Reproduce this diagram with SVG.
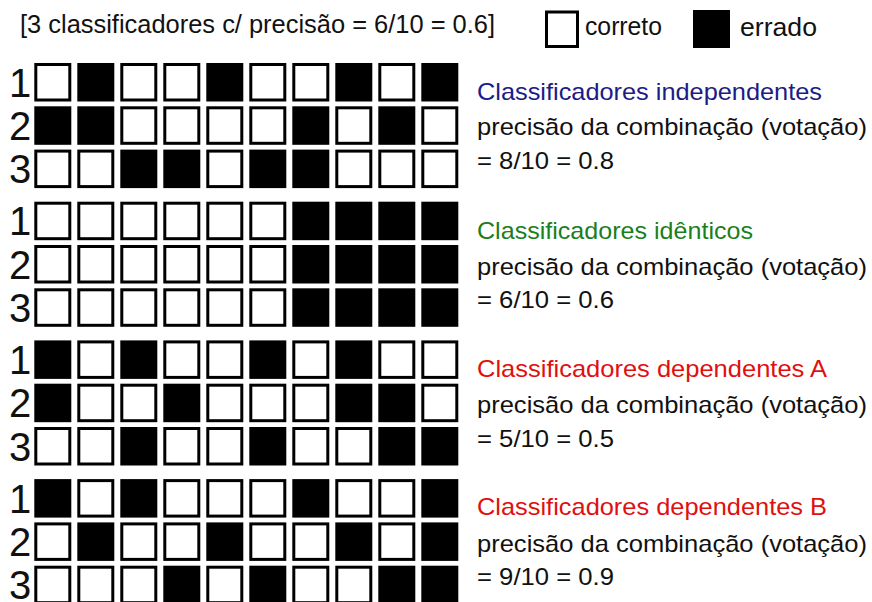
<svg xmlns="http://www.w3.org/2000/svg" width="872" height="602" viewBox="0 0 872 602">
<style>
  text { font-family: "Liberation Sans", Arial, sans-serif; fill: #111; }
  .t { font-size: 25px; }
  .lbl { font-size: 24px; }
  .num { font-size: 40px; }
  .wc { fill: #fff; stroke: #000; stroke-width: 3; }
  .bc { fill: #000; }
  .blue { fill: #1c1c86; }
  .green { fill: #1b7f1b; }
  .red { fill: #e01010; }
</style>
<defs>
  <rect id="w" class="wc" x="1.5" y="1.5" width="34" height="35.5"/>
  <rect id="b" class="bc" x="0" y="0" width="37" height="38.5"/>
</defs>
<rect width="872" height="602" fill="#fff"/>

<g id="header">
  <text class="t" x="20" y="33" textLength="475" lengthAdjust="spacingAndGlyphs">[3 classificadores c/ precisão = 6/10 = 0.6]</text>
  <rect class="wc" x="546.5" y="12" width="31" height="34.5"/>
  <text class="t" x="585" y="35" textLength="77" lengthAdjust="spacingAndGlyphs">correto</text>
  <rect class="bc" x="693" y="10" width="37" height="38"/>
  <text class="t" x="740" y="36" textLength="77" lengthAdjust="spacingAndGlyphs">errado</text>
</g>

<g id="group-independentes">
  <text class="num" x="9" y="96.5">1</text>
  <text class="num" x="9" y="139.8">2</text>
  <text class="num" x="9" y="183.1">3</text>
  <g transform="translate(0,63)">
    <use href="#w" x="34.3"/><use href="#b" x="77.3"/><use href="#w" x="120.3"/><use href="#w" x="163.3"/><use href="#b" x="206.3"/><use href="#w" x="249.3"/><use href="#w" x="292.3"/><use href="#b" x="335.3"/><use href="#w" x="378.3"/><use href="#b" x="421.3"/>
  </g>
  <g transform="translate(0,106.3)">
    <use href="#b" x="34.3"/><use href="#b" x="77.3"/><use href="#w" x="120.3"/><use href="#w" x="163.3"/><use href="#w" x="206.3"/><use href="#w" x="249.3"/><use href="#b" x="292.3"/><use href="#w" x="335.3"/><use href="#b" x="378.3"/><use href="#w" x="421.3"/>
  </g>
  <g transform="translate(0,149.6)">
    <use href="#w" x="34.3"/><use href="#w" x="77.3"/><use href="#b" x="120.3"/><use href="#b" x="163.3"/><use href="#w" x="206.3"/><use href="#b" x="249.3"/><use href="#b" x="292.3"/><use href="#w" x="335.3"/><use href="#w" x="378.3"/><use href="#w" x="421.3"/>
  </g>
  <text class="lbl blue" x="477" y="100" textLength="345" lengthAdjust="spacingAndGlyphs">Classificadores independentes</text>
  <text class="lbl" x="477" y="135" textLength="390" lengthAdjust="spacingAndGlyphs">precisão da combinação (votação)</text>
  <text class="lbl" x="477" y="169" textLength="137" lengthAdjust="spacingAndGlyphs">= 8/10 = 0.8</text>
</g>

<g id="group-identicos">
  <text class="num" x="9" y="235.2">1</text>
  <text class="num" x="9" y="278.5">2</text>
  <text class="num" x="9" y="321.8">3</text>
  <g transform="translate(0,201.7)">
    <use href="#w" x="34.3"/><use href="#w" x="77.3"/><use href="#w" x="120.3"/><use href="#w" x="163.3"/><use href="#w" x="206.3"/><use href="#w" x="249.3"/><use href="#b" x="292.3"/><use href="#b" x="335.3"/><use href="#b" x="378.3"/><use href="#b" x="421.3"/>
  </g>
  <g transform="translate(0,245)">
    <use href="#w" x="34.3"/><use href="#w" x="77.3"/><use href="#w" x="120.3"/><use href="#w" x="163.3"/><use href="#w" x="206.3"/><use href="#w" x="249.3"/><use href="#b" x="292.3"/><use href="#b" x="335.3"/><use href="#b" x="378.3"/><use href="#b" x="421.3"/>
  </g>
  <g transform="translate(0,288.3)">
    <use href="#w" x="34.3"/><use href="#w" x="77.3"/><use href="#w" x="120.3"/><use href="#w" x="163.3"/><use href="#w" x="206.3"/><use href="#w" x="249.3"/><use href="#b" x="292.3"/><use href="#b" x="335.3"/><use href="#b" x="378.3"/><use href="#b" x="421.3"/>
  </g>
  <text class="lbl green" x="477" y="238.5" textLength="276" lengthAdjust="spacingAndGlyphs">Classificadores idênticos</text>
  <text class="lbl" x="477" y="274.5" textLength="390" lengthAdjust="spacingAndGlyphs">precisão da combinação (votação)</text>
  <text class="lbl" x="477" y="308" textLength="137" lengthAdjust="spacingAndGlyphs">= 6/10 = 0.6</text>
</g>

<g id="group-dependentes-a">
  <text class="num" x="9" y="373.9">1</text>
  <text class="num" x="9" y="417.2">2</text>
  <text class="num" x="9" y="460.5">3</text>
  <g transform="translate(0,340.4)">
    <use href="#b" x="34.3"/><use href="#w" x="77.3"/><use href="#b" x="120.3"/><use href="#w" x="163.3"/><use href="#w" x="206.3"/><use href="#b" x="249.3"/><use href="#w" x="292.3"/><use href="#b" x="335.3"/><use href="#w" x="378.3"/><use href="#w" x="421.3"/>
  </g>
  <g transform="translate(0,383.7)">
    <use href="#b" x="34.3"/><use href="#w" x="77.3"/><use href="#w" x="120.3"/><use href="#b" x="163.3"/><use href="#w" x="206.3"/><use href="#w" x="249.3"/><use href="#w" x="292.3"/><use href="#b" x="335.3"/><use href="#b" x="378.3"/><use href="#w" x="421.3"/>
  </g>
  <g transform="translate(0,427)">
    <use href="#w" x="34.3"/><use href="#w" x="77.3"/><use href="#b" x="120.3"/><use href="#w" x="163.3"/><use href="#w" x="206.3"/><use href="#b" x="249.3"/><use href="#w" x="292.3"/><use href="#w" x="335.3"/><use href="#b" x="378.3"/><use href="#b" x="421.3"/>
  </g>
  <text class="lbl red" x="477" y="377" textLength="350" lengthAdjust="spacingAndGlyphs">Classificadores dependentes A</text>
  <text class="lbl" x="477" y="413" textLength="390" lengthAdjust="spacingAndGlyphs">precisão da combinação (votação)</text>
  <text class="lbl" x="477" y="446.5" textLength="137" lengthAdjust="spacingAndGlyphs">= 5/10 = 0.5</text>
</g>

<g id="group-dependentes-b">
  <text class="num" x="9" y="512.6">1</text>
  <text class="num" x="9" y="555.9">2</text>
  <text class="num" x="9" y="599.2">3</text>
  <g transform="translate(0,479.1)">
    <use href="#b" x="34.3"/><use href="#w" x="77.3"/><use href="#b" x="120.3"/><use href="#w" x="163.3"/><use href="#w" x="206.3"/><use href="#w" x="249.3"/><use href="#b" x="292.3"/><use href="#w" x="335.3"/><use href="#w" x="378.3"/><use href="#b" x="421.3"/>
  </g>
  <g transform="translate(0,522.4)">
    <use href="#w" x="34.3"/><use href="#b" x="77.3"/><use href="#w" x="120.3"/><use href="#w" x="163.3"/><use href="#b" x="206.3"/><use href="#w" x="249.3"/><use href="#w" x="292.3"/><use href="#b" x="335.3"/><use href="#w" x="378.3"/><use href="#b" x="421.3"/>
  </g>
  <g transform="translate(0,565.7)">
    <use href="#w" x="34.3"/><use href="#w" x="77.3"/><use href="#w" x="120.3"/><use href="#b" x="163.3"/><use href="#w" x="206.3"/><use href="#b" x="249.3"/><use href="#w" x="292.3"/><use href="#w" x="335.3"/><use href="#b" x="378.3"/><use href="#b" x="421.3"/>
  </g>
  <text class="lbl red" x="477" y="515" textLength="350" lengthAdjust="spacingAndGlyphs">Classificadores dependentes B</text>
  <text class="lbl" x="477" y="551.5" textLength="390" lengthAdjust="spacingAndGlyphs">precisão da combinação (votação)</text>
  <text class="lbl" x="477" y="585" textLength="137" lengthAdjust="spacingAndGlyphs">= 9/10 = 0.9</text>
</g>
</svg>
